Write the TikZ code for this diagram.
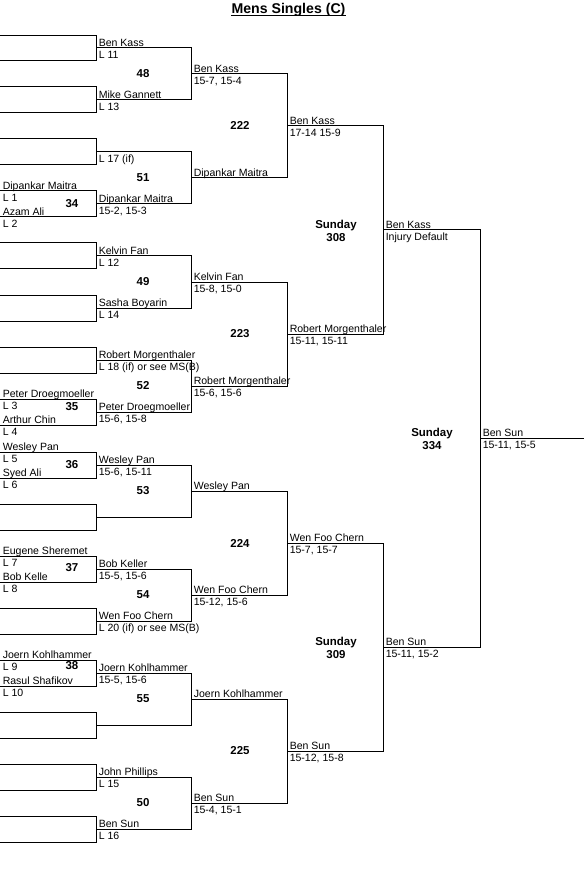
\documentclass[tikz,border=0pt]{standalone}
\usepackage{fontspec}
\setmainfont{Liberation Sans}
\tikzset{
  wire/.style={line width=0.75pt, line cap=rect},
  nm/.style={anchor=base west, inner sep=0pt, font=\fontsize{7.9pt}{9pt}\selectfont},
  mno/.style={font=\fontsize{8.6pt}{9.2pt}\selectfont\bfseries, align=center, inner sep=0pt},
  ttl/.style={font=\fontsize{10.6pt}{12pt}\selectfont\bfseries, anchor=base, inner sep=0pt},
}
\newcommand\bare[4]{%
  \coordinate (#1-a) at (#2,#4);
  \coordinate (#1-b) at (#3,#4);
  \draw[wire] (#1-a) -- (#1-b);}
\newcommand\up[2]{\node[nm] (#1-n) at ([shift={(2.5,-1.8)}]#1-a) {#2};}
\newcommand\dn[2]{\node[nm] (#1-s) at ([shift={(2.5,10.4)}]#1-a) {#2};}
\newcommand\joinv[2]{\draw[wire] (#1-b) -- (#2-b);}
\begin{document}
\begin{tikzpicture}[x=0.75pt,y=-0.75pt]
\useasboundingbox (0,0) rectangle (583,880);
% title
\node[ttl] (title) at (288.5,13.5) {Mens Singles (C)};
\draw[line width=0.75pt] ([yshift=-1.6pt]title.base west) -- ([yshift=-1.6pt]title.base east);

% ---- round 1 (x 0-96)
\bare{b1t}{0}{96}{36} \bare{b1b}{0}{96}{61} \joinv{b1t}{b1b}
\bare{b2t}{0}{96}{87} \bare{b2b}{0}{96}{113} \joinv{b2t}{b2b}
\bare{b3t}{0}{96}{139} \bare{b3b}{0}{96}{165} \joinv{b3t}{b3b}
\bare{m34a}{0}{96}{191} \up{m34a}{Dipankar Maitra} \dn{m34a}{L 1}
\bare{m34b}{0}{96}{217} \up{m34b}{Azam Ali} \dn{m34b}{L 2} \joinv{m34a}{m34b}
\bare{b4t}{0}{96}{243} \bare{b4b}{0}{96}{269} \joinv{b4t}{b4b}
\bare{b5t}{0}{96}{295} \bare{b5b}{0}{96}{321} \joinv{b5t}{b5b}
\bare{b6t}{0}{96}{347} \bare{b6b}{0}{96}{373} \joinv{b6t}{b6b}
\bare{m35a}{0}{96}{399} \up{m35a}{Peter Droegmoeller} \dn{m35a}{L 3}
\bare{m35b}{0}{96}{425} \up{m35b}{Arthur Chin} \dn{m35b}{L 4} \joinv{m35a}{m35b}
\bare{m36a}{0}{96}{452} \up{m36a}{Wesley Pan} \dn{m36a}{L 5}
\bare{m36b}{0}{96}{478} \up{m36b}{Syed Ali} \dn{m36b}{L 6} \joinv{m36a}{m36b}
\bare{b7t}{0}{96}{504} \bare{b7b}{0}{96}{530} \joinv{b7t}{b7b}
\bare{m37a}{0}{96}{556} \up{m37a}{Eugene Sheremet} \dn{m37a}{L 7}
\bare{m37b}{0}{96}{582} \up{m37b}{Bob Kelle} \dn{m37b}{L 8} \joinv{m37a}{m37b}
\bare{b8t}{0}{96}{608} \bare{b8b}{0}{96}{634} \joinv{b8t}{b8b}
\bare{m38a}{0}{96}{660} \up{m38a}{Joern Kohlhammer} \dn{m38a}{L 9}
\bare{m38b}{0}{96}{686} \up{m38b}{Rasul Shafikov} \dn{m38b}{L 10} \joinv{m38a}{m38b}
\bare{b9t}{0}{96}{712} \bare{b9b}{0}{96}{738} \joinv{b9t}{b9b}
\bare{b10t}{0}{96}{764} \bare{b10b}{0}{96}{790} \joinv{b10t}{b10b}
\bare{b11t}{0}{96}{816} \bare{b11b}{0}{96}{842} \joinv{b11t}{b11b}

% ---- round 2 (x 96-191)
\bare{r2a}{96}{191}{48} \up{r2a}{Ben Kass} \dn{r2a}{L 11}
\bare{r2b}{96}{191}{100} \up{r2b}{Mike Gannett} \dn{r2b}{L 13}
\bare{r2c}{96}{191}{152} \dn{r2c}{L 17 (if)}
\bare{r2d}{96}{191}{204} \up{r2d}{Dipankar Maitra} \dn{r2d}{15-2, 15-3}
\bare{r2e}{96}{191}{256} \up{r2e}{Kelvin Fan} \dn{r2e}{L 12}
\bare{r2f}{96}{191}{308} \up{r2f}{Sasha Boyarin} \dn{r2f}{L 14}
\bare{r2g}{96}{191}{360} \up{r2g}{Robert Morgenthaler} \dn{r2g}{L 18 (if) or see MS(B)}
\bare{r2h}{96}{191}{412} \up{r2h}{Peter Droegmoeller} \dn{r2h}{15-6, 15-8}
\bare{r2i}{96}{191}{465} \up{r2i}{Wesley Pan} \dn{r2i}{15-6, 15-11}
\bare{r2j}{96}{191}{517}
\bare{r2k}{96}{191}{569} \up{r2k}{Bob Keller} \dn{r2k}{15-5, 15-6}
\bare{r2l}{96}{191}{621} \up{r2l}{Wen Foo Chern} \dn{r2l}{L 20 (if) or see MS(B)}
\bare{r2m}{96}{191}{673} \up{r2m}{Joern Kohlhammer} \dn{r2m}{15-5, 15-6}
\bare{r2n}{96}{191}{725}
\bare{r2o}{96}{191}{777} \up{r2o}{John Phillips} \dn{r2o}{L 15}
\bare{r2p}{96}{191}{829} \up{r2p}{Ben Sun} \dn{r2p}{L 16}
\joinv{r2a}{r2b} \joinv{r2c}{r2d} \joinv{r2e}{r2f} \joinv{r2g}{r2h}
\joinv{r2i}{r2j} \joinv{r2k}{r2l} \joinv{r2m}{r2n} \joinv{r2o}{r2p}

% ---- round 3 (x 191-287)
\bare{r3a}{191}{287}{74} \up{r3a}{Ben Kass} \dn{r3a}{15-7, 15-4}
\bare{r3b}{191}{287}{178} \up{r3b}{Dipankar Maitra}
\bare{r3c}{191}{287}{282} \up{r3c}{Kelvin Fan} \dn{r3c}{15-8, 15-0}
\bare{r3d}{191}{287}{386} \up{r3d}{Robert Morgenthaler} \dn{r3d}{15-6, 15-6}
\bare{r3e}{191}{287}{491} \up{r3e}{Wesley Pan}
\bare{r3f}{191}{287}{595} \up{r3f}{Wen Foo Chern} \dn{r3f}{15-12, 15-6}
\bare{r3g}{191}{287}{699} \up{r3g}{Joern Kohlhammer}
\bare{r3h}{191}{287}{803} \up{r3h}{Ben Sun} \dn{r3h}{15-4, 15-1}
\joinv{r3a}{r3b} \joinv{r3c}{r3d} \joinv{r3e}{r3f} \joinv{r3g}{r3h}

% ---- round 4 (x 287-383)
\bare{r4a}{287}{383}{126} \up{r4a}{Ben Kass} \dn{r4a}{17-14 15-9}
\bare{r4b}{287}{383}{334} \up{r4b}{Robert Morgenthaler} \dn{r4b}{15-11, 15-11}
\bare{r4c}{287}{383}{543} \up{r4c}{Wen Foo Chern} \dn{r4c}{15-7, 15-7}
\bare{r4d}{287}{383}{751} \up{r4d}{Ben Sun} \dn{r4d}{15-12, 15-8}
\joinv{r4a}{r4b} \joinv{r4c}{r4d}

% ---- round 5 (x 383-480)
\bare{r5a}{383}{480}{230} \up{r5a}{Ben Kass} \dn{r5a}{Injury Default}
\bare{r5b}{383}{480}{647} \up{r5b}{Ben Sun} \dn{r5b}{15-11, 15-2}
\joinv{r5a}{r5b}

% ---- final (x 480-583)
\bare{fin}{480}{583}{438} \up{fin}{Ben Sun} \dn{fin}{15-11, 15-5}

% ---- match numbers
\node[mno] (n34) at (72,204) {34};
\node[mno] (n35) at (72,407) {35};
\node[mno] (n36) at (72,465) {36};
\node[mno] (n37) at (72,568) {37};
\node[mno] (n38) at (72,666) {38};
\node[mno] (n48) at (143,74) {48};
\node[mno] (n51) at (143,178) {51};
\node[mno] (n49) at (143,282) {49};
\node[mno] (n52) at (143,386) {52};
\node[mno] (n53) at (143,491) {53};
\node[mno] (n54) at (143,595) {54};
\node[mno] (n55) at (143,699) {55};
\node[mno] (n50) at (143,803) {50};
\node[mno] (n222) at (240,126) {222};
\node[mno] (n223) at (240,334) {223};
\node[mno] (n224) at (240,543) {224};
\node[mno] (n225) at (240,751) {225};
\node[mno] (n308) at (336,231) {Sunday\\308};
\node[mno] (n309) at (336,648) {Sunday\\309};
\node[mno] (n334) at (432,439) {Sunday\\334};
\end{tikzpicture}
\end{document}
